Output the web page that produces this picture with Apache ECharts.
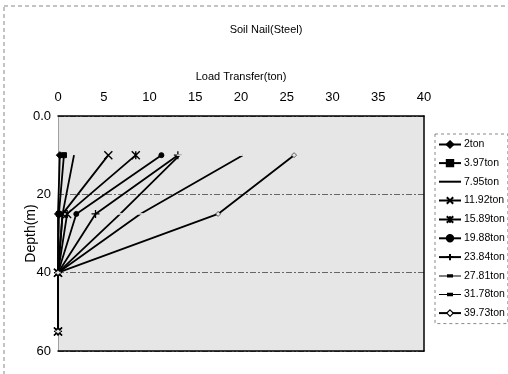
<!DOCTYPE html>
<html>
<head>
<meta charset="utf-8">
<script src="https://cdn.jsdelivr.net/npm/echarts@6/dist/echarts.min.js"></script>
<style>
  html, body { margin: 0; padding: 0; background: #fff; }
  #chart { width: 508px; height: 374px; }
</style>
</head>
<body>
<div id="chart"></div>
<script>
// Depths along the nail (m) at which load transfer was measured
const depths = [10, 25, 40, 55];

// Applied load for each curve
const loadNames = ['2ton', '3.97ton', '7.95ton', '11.92ton', '15.89ton',
                   '19.88ton', '23.84ton', '27.81ton', '31.78ton', '39.73ton'];

// Load transfer (ton) at each depth, one list per applied load
const load2    = [0.2, 0.0, 0, 0];
const load397  = [0.65, 0.1, 0, 0];
const load795  = [1.75, 0.5, 0, 0];
const load1192 = [5.5, 0.5, 0, 0];
const load1589 = [8.5, 1.0, 0, 0];
const load1988 = [11.3, 2.0, 0, 0];
const load2384 = [13.1, 4.1, 0, 0];
const load2781 = [13.3, 6.8, 0, 0];
const load3178 = [20.2, 9.0, 0, 0];
const load3973 = [25.8, 17.5, 0, 0];

const xTicks = [0, 5, 10, 15, 20, 25, 30, 35, 40];
const yTickLabels = { 0: '0.0', 20: '20', 40: '40', 60: '60' };

const allLoads = [load2, load397, load795, load1192, load1589,
                  load1988, load2384, load2781, load3178, load3973];

const plotBg = '#e6e6e6';
const dashPath = 'path://M0,0L10,0L10,3L0,3Z';
// Legend icon: line with a short thick dash across its middle
const dashLegendIcon = 'path://M0,1.2L22,1.2L22,2.2L0,2.2ZM8,0L14,0L14,3.4L8,3.4Z';

// Marker per curve
const markers = [
  { symbol: 'diamond', size: 7, fill: '#000', border: 1 },
  { symbol: 'rect', size: 5, fill: '#000', border: 1 },
  { symbol: 'none', size: 0, fill: '#000', border: 0 },
  { symbol: 'path://M0,0L10,10M10,0L0,10', size: 8, fill: 'none', border: 1.4 },
  { symbol: 'path://M0,0L10,10M10,0L0,10M5,0L5,10', size: 8, fill: 'none', border: 1.4 },
  { symbol: 'circle', size: 5, fill: '#000', border: 1 },
  { symbol: 'path://M5,0L5,10M0,5L10,5', size: 8, fill: 'none', border: 1.3 },
  { symbol: dashPath, size: [6, 5], fill: plotBg, border: 0 },
  { symbol: dashPath, size: [6, 5], fill: plotBg, border: 0 },
  { symbol: 'diamond', size: 5, fill: plotBg, border: 0.6 }
];

const font = '"Liberation Sans", Arial, sans-serif';

const series = loadNames.map((name, i) => ({
  name: name,
  type: 'line',
  data: depths.map((d, k) => [allLoads[i][k], d]),
  symbol: markers[i].symbol,
  symbolSize: markers[i].size,
  symbolKeepAspect: true,
  showSymbol: markers[i].symbol !== 'none',
  lineStyle: { color: '#000', width: 1.8 },
  itemStyle: { color: markers[i].fill, borderColor: '#000', borderWidth: markers[i].border },
  animation: false,
  z: 3
}));

// Legend entries: black marks on white, line-only entry has no marker
const legendData = loadNames.map((name, i) => {
  const item = { name: name };
  if (markers[i].symbol === 'none') item.itemStyle = { opacity: 0 };
  else if (markers[i].symbol === dashPath) {
    item.icon = dashLegendIcon;
    item.itemStyle = { color: '#000', borderWidth: 0 };
  }
  else if (i === 9) item.itemStyle = { color: '#fff', borderColor: '#000', borderWidth: 1.2 };
  return item;
});

const chart = echarts.init(document.getElementById('chart'));
chart.setOption({
  animation: false,
  backgroundColor: '#fff',
  title: {
    text: 'Soil Nail(Steel)',
    left: 261, top: 19, textAlign: 'center',
    textStyle: { fontFamily: font, fontSize: 11, fontWeight: 'normal', color: '#000' }
  },
  graphic: [{
    type: 'rect',
    shape: { x: 4, y: 6, width: 530, height: 400 },
    style: { fill: 'none', stroke: '#888', lineWidth: 1, lineDash: [4, 3] },
    silent: true
  }],
  legend: {
    orient: 'vertical',
    left: 435, top: 134,
    itemGap: 7.6,
    itemWidth: 22, itemHeight: 8,
    padding: [5, 3, 5, 3],
    borderColor: '#888', borderWidth: 1, borderType: [3, 3],
    textStyle: { fontFamily: font, fontSize: 10.5, color: '#000', padding: [0, 0, 0, -2] },
    data: legendData
  },
  grid: {
    left: 58, top: 116, width: 366, height: 235,
    show: true, backgroundColor: plotBg, borderWidth: 0
  },
  xAxis: [{
    type: 'value', position: 'top', min: 0, max: 40, interval: 5,
    name: 'Load Transfer(ton)', nameLocation: 'middle', nameGap: 34,
    nameMoveOverlap: false,
    nameTextStyle: { fontFamily: font, fontSize: 11, color: '#000' },
    axisLine: { show: true, lineStyle: { color: '#000', width: 1.5 } },
    axisTick: { show: false },
    axisLabel: {
      fontFamily: font, fontSize: 13, color: '#000', margin: 12,
      customValues: xTicks
    },
    splitLine: { show: false }
  }, {
    type: 'value', position: 'bottom', min: 0, max: 40, interval: 5,
    axisLine: { show: true, onZero: false, lineStyle: { color: '#000', width: 1.5 } },
    axisTick: { show: false }, axisLabel: { show: false }, splitLine: { show: false }
  }],
  yAxis: [{
    type: 'value', inverse: true, min: 0, max: 60, interval: 20,
    name: 'Depth(m)', nameLocation: 'middle', nameGap: 20, nameRotate: 90,
    nameMoveOverlap: false,
    nameTextStyle: { fontFamily: font, fontSize: 14, color: '#000' },
    axisLine: { show: true, onZero: false, lineStyle: { color: '#a0a0a0', width: 1 } },
    axisTick: { show: false },
    axisLabel: {
      fontFamily: font, fontSize: 13, color: '#000', margin: 7,
      formatter: v => yTickLabels[v]
    },
    splitLine: { show: true, lineStyle: { color: '#666', width: 1, type: [6, 2, 2, 2] } }
  }, {
    type: 'value', inverse: true, position: 'right', min: 0, max: 60, interval: 20,
    axisLine: { show: true, onZero: false, lineStyle: { color: '#000', width: 1.5 } },
    axisTick: { show: false }, axisLabel: { show: false }, splitLine: { show: false }
  }],
  series: series
});
</script>
</body>
</html>
